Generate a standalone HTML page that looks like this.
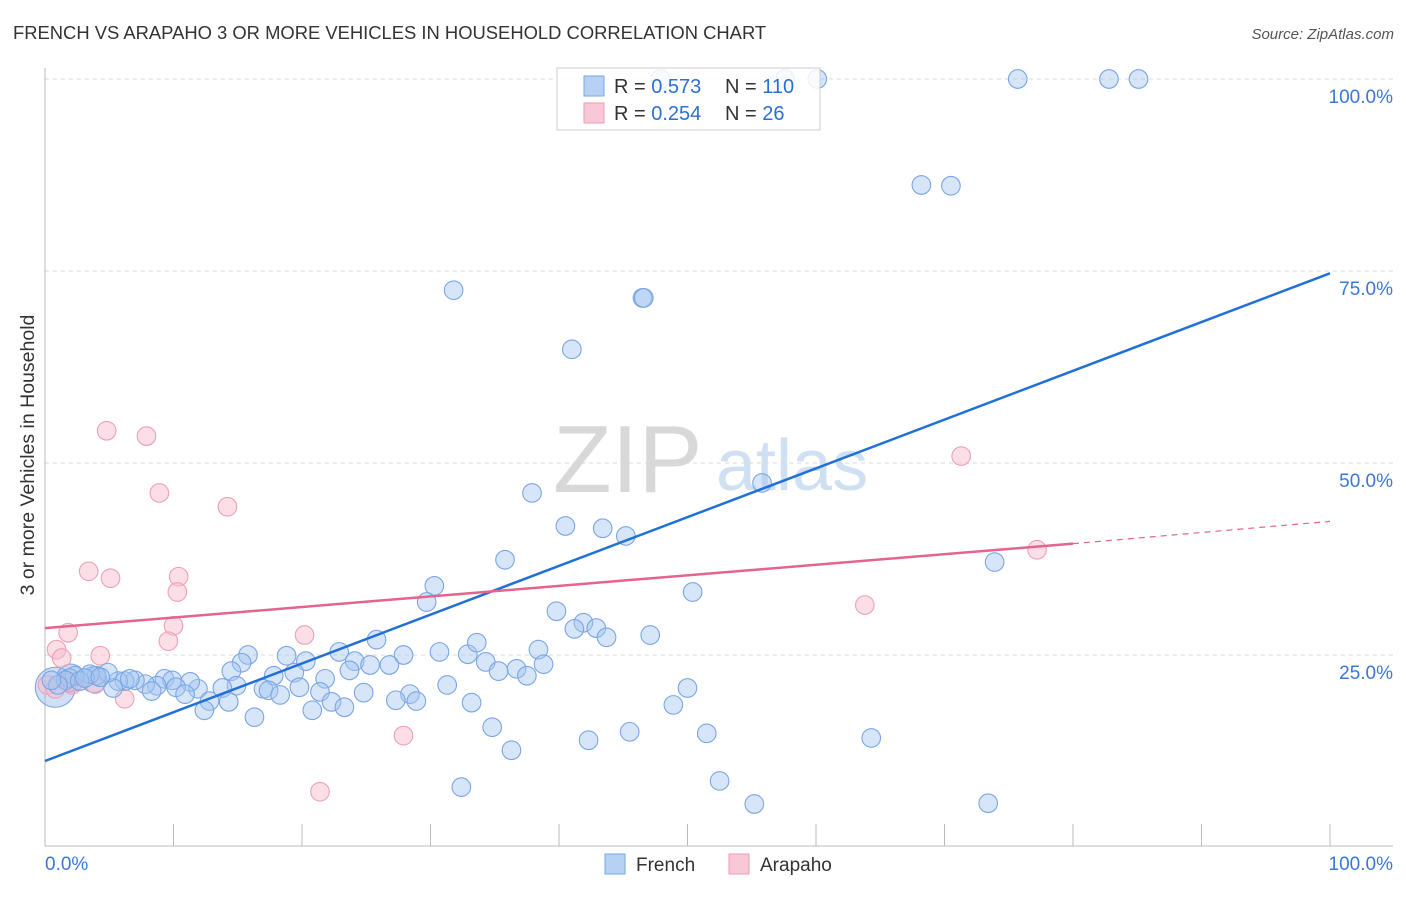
<!DOCTYPE html>
<html><head><meta charset="utf-8"><style>
body{margin:0;background:#fff;font-family:"Liberation Sans",sans-serif;}
svg text{font-family:"Liberation Sans",sans-serif;}
</style></head><body>
<svg id="chart" width="1406" height="892" xmlns="http://www.w3.org/2000/svg">
<text x="13" y="39" font-size="18.4" fill="#333">FRENCH VS ARAPAHO 3 OR MORE VEHICLES IN HOUSEHOLD CORRELATION CHART</text>
<text x="1394" y="39" font-size="15" fill="#555" font-style="italic" text-anchor="end">Source: ZipAtlas.com</text>
<g>
<text x="553" y="492" font-size="96" fill="#d8d8d8" font-family="Liberation Serif">ZIP</text>
<text x="716" y="490" font-size="72" fill="#cfe0f3">atlas</text>
</g>
<g id="grid"></g>
<g id="axes"></g>
<g id="points"></g>
<g id="lines"></g>
<text transform="translate(34,455) rotate(-90)" font-size="19.5" fill="#333" text-anchor="middle">3 or more Vehicles in Household</text>
<g>
<rect x="557" y="68" width="263" height="62" fill="rgba(255,255,255,0.85)" stroke="#ccc"/>
<rect x="584" y="76" width="20" height="20" fill="#b7d1f4" stroke="#7aa6e4"/>
<text x="614" y="93" font-size="20" fill="#333">R = <tspan fill="#2c6fd4">0.573</tspan></text>
<text x="725" y="93" font-size="20" fill="#333">N = <tspan fill="#2c6fd4">110</tspan></text>
<rect x="584" y="103" width="20" height="20" fill="#f9c8d6" stroke="#ee9ab2"/>
<text x="614" y="120" font-size="20" fill="#333">R = <tspan fill="#2c6fd4">0.254</tspan></text>
<text x="725" y="120" font-size="20" fill="#333">N = <tspan fill="#2c6fd4"> 26</tspan></text>
</g>
<g>
<rect x="605" y="854" width="20" height="20" fill="#b7d1f4" stroke="#7aa6e4"/>
<text x="636" y="871" font-size="19" fill="#333">French</text>
<rect x="729" y="854" width="20" height="20" fill="#f9c8d6" stroke="#ee9ab2"/>
<text x="760" y="871" font-size="19" fill="#333">Arapaho</text>
</g>
</svg>
<script>
const yTicks=[25,50,75,100];
const yTickLabels=["25.0%","50.0%","75.0%","100.0%"];
const xTicks=[0,10,20,30,40,50,60,70,80,90,100];
const frenchX=[47.9,57.6,60.1,75.7,82.8,85.1,68.2,70.5,31.8,46.5,46.6,41.0,37.9,55.8,40.5,43.4,45.2,35.8,73.9,30.3,29.7,50.4,39.8,41.9,41.2,42.9,43.7,47.1,25.8,22.9,15.8,18.8,20.3,30.7,32.9,33.6,38.4,34.3,38.8,27.9,24.1,25.3,26.8,15.3,35.3,36.7,37.5,23.7,21.8,19.4,17.8,14.5,31.3,50.0,24.8,21.4,19.8,17.0,17.4,14.9,13.8,11.9,9.3,9.9,11.3,10.2,8.7,7.8,8.3,7.0,6.2,5.7,5.3,4.9,4.0,3.5,2.3,1.9,1.6,1.0,0.5,2.7,3.1,4.3,6.6,10.9,12.8,12.4,14.3,16.3,18.3,20.8,22.3,23.3,28.4,28.9,27.3,33.2,48.9,34.8,51.5,45.5,42.3,36.3,64.3,32.4,52.5,55.2,73.4];
const frenchY=[100,100,100,100,100,100,86.2,86.1,72.5,71.5,71.5,64.8,46.1,47.4,41.8,41.5,40.5,37.4,37.1,34.0,31.9,33.2,30.7,29.2,28.4,28.5,27.3,27.6,27.0,25.4,25.0,24.9,24.2,25.4,25.1,26.6,25.7,24.1,23.8,25.0,24.2,23.7,23.7,24.0,22.9,23.2,22.3,23.0,21.9,22.7,22.3,22.9,21.1,20.7,20.1,20.2,20.8,20.6,20.4,21.0,20.7,20.6,21.9,21.7,21.5,20.8,21.0,21.2,20.3,21.7,21.6,21.6,20.7,22.7,22.3,22.5,22.3,22.0,21.7,21.1,21.7,21.6,22.0,22.1,21.9,19.9,19.0,17.8,18.9,16.9,19.8,17.8,18.9,18.2,19.9,19.0,19.1,18.8,18.5,15.6,14.8,15.0,13.9,12.6,14.2,7.8,8.6,5.6,5.7];
const frenchBigX=[0.8,2.0,3.8];
const frenchBigY=[20.8,22.0,21.8];
const frenchBigR=[20,14,13];
const arapahoX=[4.8,7.9,8.9,14.2,3.4,5.1,10.4,10.3,10.0,9.6,1.8,20.2,0.9,1.3,4.3,0.2,2.1,3.9,6.2,27.9,21.4,71.3,63.8,77.2,0.8,1.9];
const arapahoY=[54.2,53.5,46.1,44.3,35.9,35.0,35.2,33.2,28.8,26.8,27.9,27.6,25.7,24.6,24.9,21.1,21.1,21.2,19.3,14.5,7.2,50.9,31.5,38.7,20.6,21.5];
const frenchFit=[11.2,74.7];
const arapahoFit=[28.5,39.5,42.4];
const arapahoSolidEnd=80;

const NS="http://www.w3.org/2000/svg";
const X0=45,X1=1330,Y0=847,Y100=79;
function sx(v){return X0+(X1-X0)*v/100;}
function sy(v){return Y0-(Y0-Y100)*v/100;}
function mk(tag,attrs,parent){const e=document.createElementNS(NS,tag);for(const k in attrs)e.setAttribute(k,attrs[k]);parent.appendChild(e);return e;}
const grid=document.getElementById('grid'),axes=document.getElementById('axes'),pts=document.getElementById('points'),lines=document.getElementById('lines');
yTicks.forEach((t,i)=>{
  const l=mk('line',{x1:45,x2:1393,y1:sy(t),y2:sy(t),stroke:'#d8d8d8','stroke-dasharray':'4,4'},grid);
  
  
  const tx=mk('text',{x:1393,y:sy(t)+24,'font-size':19,fill:'#3a78d8','text-anchor':'end'},grid);
  tx.textContent=yTickLabels[i];
  
  
});
let a=mk('line',{x1:45,x2:45,y1:68,y2:846,stroke:'#bbb'},axes);


a=mk('line',{x1:45,x2:1393,y1:846,y2:846,stroke:'#bbb'},axes);


xTicks.forEach(t=>{
  const l=mk('line',{x1:sx(t),x2:sx(t),y1:824,y2:846,stroke:'#bbb'},axes);
  
  
});
let xl=mk('text',{x:45,y:870,'font-size':19,fill:'#3a78d8'},axes);xl.textContent='0.0%';


xl=mk('text',{x:1393,y:870,'font-size':19,fill:'#3a78d8','text-anchor':'end'},axes);xl.textContent='100.0%';



frenchBigX.forEach((x,i)=>{
  const c=mk('circle',{cx:sx(x),cy:sy(frenchBigY[i]),r:frenchBigR[i],fill:'rgba(150,185,235,0.45)',stroke:'#7ba6e4','stroke-width':1.1},pts);
  
  
});
arapahoX.forEach((x,i)=>{
  const c=mk('circle',{cx:sx(x),cy:sy(arapahoY[i]),r:9.3,fill:'rgba(248,190,206,0.5)',stroke:'#eea0b7','stroke-width':1.1},pts);
  
  
});
frenchX.forEach((x,i)=>{
  const c=mk('circle',{cx:sx(x),cy:sy(frenchY[i]),r:9.3,fill:'rgba(165,198,240,0.45)',stroke:'#7ba6e4','stroke-width':1.1},pts);
  
  
});
let ln=mk('line',{x1:sx(0),y1:sy(frenchFit[0]),x2:sx(100),y2:sy(frenchFit[1]),stroke:'#2170d8','stroke-width':2.5},lines);


ln=mk('line',{x1:sx(0),y1:sy(arapahoFit[0]),x2:sx(arapahoSolidEnd),y2:sy(arapahoFit[1]),stroke:'#e4648f','stroke-width':2.5},lines);


ln=mk('line',{x1:sx(arapahoSolidEnd),y1:sy(arapahoFit[1]),x2:sx(100),y2:sy(arapahoFit[2]),stroke:'#e4648f','stroke-width':1.2,'stroke-dasharray':'6,5'},lines);


</script>
</body></html>
